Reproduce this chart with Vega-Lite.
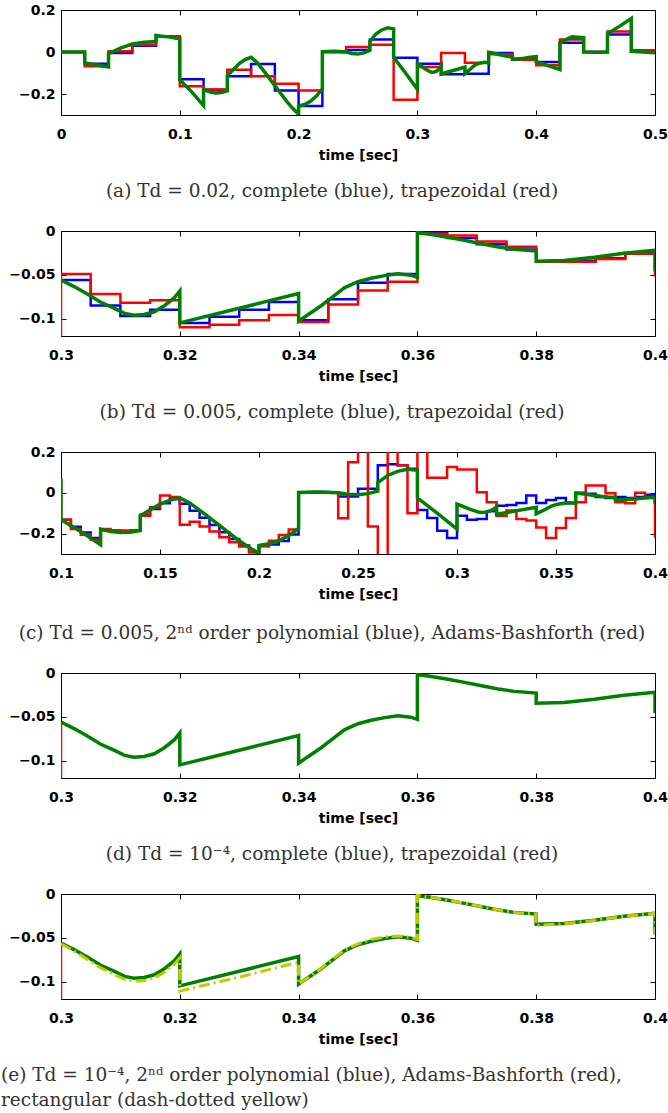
{
  "$schema": "https://vega.github.io/schema/vega-lite/v6.json",
  "padding": {"left": 0, "top": 2, "right": 0, "bottom": 0},
  "config": {
    "view": {"stroke": "#000", "strokeWidth": 1},
    "axis": {"domain": false, "grid": false, "tickColor": "#000", "tickWidth": 1, "tickSize": -5,
      "labelFont": "DejaVu Sans", "labelFontWeight": "bold", "labelFontSize": 14, "labelColor": "#000",
      "labelFlush": false, "labelOverlap": false, "labelBound": false,
      "titleFont": "DejaVu Sans", "titleFontWeight": "bold", "titleFontSize": 14, "titleColor": "#000"},
    "axisBottom": {"labelPadding": 17, "titlePadding": 7},
    "axisLeft": {"labelPadding": 11},
    "title": {"font": "DejaVu Serif", "fontSize": 18.5, "fontWeight": "normal", "color": "#333", "orient": "bottom", "offset": 20, "frame": "group"}
  },
  "spacing": 22,
  "datasets": {
    "aB": [{"t":0,"v":0},{"t":0.02,"v":-0.056},{"t":0.04,"v":-0.005},{"t":0.06,"v":0.03},{"t":0.08,"v":0.075},{"t":0.1,"v":-0.13},{"t":0.12,"v":-0.18},{"t":0.14,"v":-0.116},{"t":0.16,"v":-0.057},{"t":0.18,"v":-0.183},{"t":0.2,"v":-0.257},{"t":0.22,"v":0},{"t":0.24,"v":0.01},{"t":0.26,"v":0.059},{"t":0.28,"v":-0.027},{"t":0.3,"v":-0.056},{"t":0.32,"v":-0.106},{"t":0.34,"v":-0.103},{"t":0.36,"v":-0.005},{"t":0.38,"v":-0.032},{"t":0.4,"v":-0.048},{"t":0.42,"v":0.044},{"t":0.44,"v":0},{"t":0.46,"v":0.083},{"t":0.48,"v":0.005},{"t":0.5,"v":0.005}],
    "aR": [{"t":0,"v":0},{"t":0.02,"v":-0.068},{"t":0.04,"v":0.003},{"t":0.06,"v":0.035},{"t":0.08,"v":0.075},{"t":0.1,"v":-0.163},{"t":0.12,"v":-0.178},{"t":0.14,"v":-0.084},{"t":0.16,"v":-0.116},{"t":0.18,"v":-0.151},{"t":0.2,"v":-0.183},{"t":0.22,"v":0},{"t":0.24,"v":0.024},{"t":0.26,"v":0.035},{"t":0.28,"v":-0.227},{"t":0.3,"v":-0.071},{"t":0.32,"v":-0.005},{"t":0.34,"v":-0.051},{"t":0.36,"v":-0.011},{"t":0.38,"v":-0.037},{"t":0.4,"v":-0.063},{"t":0.42,"v":0.06},{"t":0.44,"v":0},{"t":0.46,"v":0.098},{"t":0.48,"v":0.008},{"t":0.5,"v":0.008}],
    "gA": [{"t":0,"v":0},{"t":0.02,"v":0},{"t":0.02,"v":-0.052},{"t":0.04,"v":-0.071},{"t":0.04,"v":-0.008},{"t":0.05,"v":0.018},{"t":0.06,"v":0.038},{"t":0.07,"v":0.046},{"t":0.08,"v":0.05},{"t":0.08,"v":0.079},{"t":0.09,"v":0.072},{"t":0.1,"v":0.063},{"t":0.1,"v":-0.132},{"t":0.11,"v":-0.19},{"t":0.12,"v":-0.255},{"t":0.12,"v":-0.178},{"t":0.125,"v":-0.19},{"t":0.13,"v":-0.195},{"t":0.135,"v":-0.193},{"t":0.14,"v":-0.185},{"t":0.14,"v":-0.112},{"t":0.145,"v":-0.084},{"t":0.15,"v":-0.055},{"t":0.155,"v":-0.036},{"t":0.16,"v":-0.025},{"t":0.165,"v":-0.05},{"t":0.17,"v":-0.085},{"t":0.175,"v":-0.122},{"t":0.18,"v":-0.16},{"t":0.185,"v":-0.198},{"t":0.19,"v":-0.235},{"t":0.195,"v":-0.268},{"t":0.2,"v":-0.296},{"t":0.2,"v":-0.258},{"t":0.205,"v":-0.25},{"t":0.21,"v":-0.235},{"t":0.215,"v":-0.21},{"t":0.22,"v":-0.175},{"t":0.22,"v":0.002},{"t":0.23,"v":0.004},{"t":0.24,"v":0},{"t":0.245,"v":-0.007},{"t":0.25,"v":-0.01},{"t":0.255,"v":-0.004},{"t":0.26,"v":0.008},{"t":0.26,"v":0.05},{"t":0.265,"v":0.085},{"t":0.27,"v":0.105},{"t":0.275,"v":0.115},{"t":0.28,"v":0.11},{"t":0.28,"v":-0.025},{"t":0.29,"v":-0.1},{"t":0.3,"v":-0.178},{"t":0.3,"v":-0.056},{"t":0.3022,"v":-0.0635},{"t":0.3045,"v":-0.0723},{"t":0.3067,"v":-0.0815},{"t":0.309,"v":-0.0885},{"t":0.3107,"v":-0.0942},{"t":0.3123,"v":-0.0962},{"t":0.314,"v":-0.0954},{"t":0.3157,"v":-0.0923},{"t":0.3174,"v":-0.0854},{"t":0.3191,"v":-0.0762},{"t":0.32,"v":-0.0685},{"t":0.32,"v":-0.105},{"t":0.34,"v":-0.0715},{"t":0.34,"v":-0.103},{"t":0.3415,"v":-0.096},{"t":0.3438,"v":-0.0854},{"t":0.346,"v":-0.0738},{"t":0.3477,"v":-0.065},{"t":0.35,"v":-0.058},{"t":0.3522,"v":-0.054},{"t":0.3545,"v":-0.051},{"t":0.3567,"v":-0.049},{"t":0.3589,"v":-0.0505},{"t":0.36,"v":-0.053},{"t":0.36,"v":-0.0019},{"t":0.3621,"v":-0.0038},{"t":0.3649,"v":-0.0069},{"t":0.3677,"v":-0.0104},{"t":0.3706,"v":-0.0142},{"t":0.3734,"v":-0.018},{"t":0.3763,"v":-0.021},{"t":0.38,"v":-0.023},{"t":0.38,"v":-0.0346},{"t":0.3847,"v":-0.0338},{"t":0.3898,"v":-0.03},{"t":0.3948,"v":-0.0254},{"t":0.4,"v":-0.0219},{"t":0.4,"v":-0.046},{"t":0.41,"v":-0.065},{"t":0.42,"v":-0.084},{"t":0.42,"v":0.045},{"t":0.43,"v":0.072},{"t":0.44,"v":0.068},{"t":0.44,"v":0},{"t":0.45,"v":-0.001},{"t":0.46,"v":0},{"t":0.46,"v":0.087},{"t":0.47,"v":0.122},{"t":0.48,"v":0.159},{"t":0.48,"v":0.003},{"t":0.49,"v":0},{"t":0.5,"v":-0.003}],
    "gB": [{"t":0.3,"v":-0.056},{"t":0.3022,"v":-0.0635},{"t":0.3045,"v":-0.0723},{"t":0.3067,"v":-0.0815},{"t":0.309,"v":-0.0885},{"t":0.3107,"v":-0.0942},{"t":0.3123,"v":-0.0962},{"t":0.314,"v":-0.0954},{"t":0.3157,"v":-0.0923},{"t":0.3174,"v":-0.0854},{"t":0.3191,"v":-0.0762},{"t":0.32,"v":-0.0685},{"t":0.32,"v":-0.105},{"t":0.34,"v":-0.0715},{"t":0.34,"v":-0.103},{"t":0.3415,"v":-0.096},{"t":0.3438,"v":-0.0854},{"t":0.346,"v":-0.0738},{"t":0.3477,"v":-0.065},{"t":0.35,"v":-0.058},{"t":0.3522,"v":-0.054},{"t":0.3545,"v":-0.051},{"t":0.3567,"v":-0.049},{"t":0.3589,"v":-0.0505},{"t":0.36,"v":-0.053},{"t":0.36,"v":-0.0019},{"t":0.3621,"v":-0.0038},{"t":0.3649,"v":-0.0069},{"t":0.3677,"v":-0.0104},{"t":0.3706,"v":-0.0142},{"t":0.3734,"v":-0.018},{"t":0.3763,"v":-0.021},{"t":0.38,"v":-0.023},{"t":0.38,"v":-0.0346},{"t":0.3847,"v":-0.0338},{"t":0.3898,"v":-0.03},{"t":0.3948,"v":-0.0254},{"t":0.4,"v":-0.0219},{"t":0.4,"v":-0.046}],
    "bB": [{"t":0.3,"v":-0.056},{"t":0.305,"v":-0.085},{"t":0.31,"v":-0.097},{"t":0.315,"v":-0.09},{"t":0.32,"v":-0.105},{"t":0.325,"v":-0.098},{"t":0.33,"v":-0.09},{"t":0.335,"v":-0.081},{"t":0.34,"v":-0.102},{"t":0.345,"v":-0.078},{"t":0.35,"v":-0.059},{"t":0.355,"v":-0.049},{"t":0.36,"v":-0.002},{"t":0.365,"v":-0.008},{"t":0.37,"v":-0.015},{"t":0.375,"v":-0.021},{"t":0.38,"v":-0.035},{"t":0.385,"v":-0.034},{"t":0.39,"v":-0.031},{"t":0.395,"v":-0.025},{"t":0.4,"v":-0.025}],
    "bR": [{"t":0.3,"v":-0.15},{"t":0.3,"v":-0.049},{"t":0.305,"v":-0.072},{"t":0.31,"v":-0.082},{"t":0.315,"v":-0.079},{"t":0.32,"v":-0.11},{"t":0.325,"v":-0.107},{"t":0.33,"v":-0.102},{"t":0.335,"v":-0.096},{"t":0.34,"v":-0.104},{"t":0.345,"v":-0.084},{"t":0.35,"v":-0.068},{"t":0.355,"v":-0.058},{"t":0.36,"v":-0.003},{"t":0.365,"v":-0.005},{"t":0.37,"v":-0.012},{"t":0.375,"v":-0.018},{"t":0.38,"v":-0.035},{"t":0.385,"v":-0.035},{"t":0.39,"v":-0.032},{"t":0.395,"v":-0.026},{"t":0.4,"v":-0.026},{"t":0.4,"v":-0.052}],
    "cB": [{"t":0.1,"v":-0.132},{"t":0.105,"v":-0.166},{"t":0.11,"v":-0.194},{"t":0.115,"v":-0.222},{"t":0.12,"v":-0.183},{"t":0.125,"v":-0.187},{"t":0.13,"v":-0.189},{"t":0.135,"v":-0.186},{"t":0.14,"v":-0.107},{"t":0.145,"v":-0.079},{"t":0.15,"v":-0.051},{"t":0.155,"v":-0.03},{"t":0.16,"v":-0.054},{"t":0.165,"v":-0.088},{"t":0.17,"v":-0.122},{"t":0.175,"v":-0.158},{"t":0.18,"v":-0.193},{"t":0.185,"v":-0.226},{"t":0.19,"v":-0.258},{"t":0.195,"v":-0.292},{"t":0.2,"v":-0.262},{"t":0.205,"v":-0.254},{"t":0.21,"v":-0.236},{"t":0.215,"v":-0.205},{"t":0.22,"v":0.003},{"t":0.225,"v":0.004},{"t":0.23,"v":0.004},{"t":0.235,"v":0.002},{"t":0.24,"v":-0.018},{"t":0.245,"v":-0.018},{"t":0.25,"v":0.02},{"t":0.255,"v":0.02},{"t":0.26,"v":0.135},{"t":0.265,"v":0.14},{"t":0.27,"v":0.135},{"t":0.275,"v":0.118},{"t":0.28,"v":-0.084},{"t":0.285,"v":-0.123},{"t":0.29,"v":-0.186},{"t":0.295,"v":-0.222},{"t":0.3,"v":-0.112},{"t":0.305,"v":-0.132},{"t":0.31,"v":-0.128},{"t":0.315,"v":-0.09},{"t":0.32,"v":-0.063},{"t":0.325,"v":-0.06},{"t":0.33,"v":-0.05},{"t":0.335,"v":-0.013},{"t":0.34,"v":-0.05},{"t":0.345,"v":-0.035},{"t":0.35,"v":-0.025},{"t":0.355,"v":-0.05},{"t":0.36,"v":0},{"t":0.365,"v":-0.005},{"t":0.37,"v":-0.02},{"t":0.375,"v":-0.025},{"t":0.38,"v":-0.02},{"t":0.385,"v":-0.025},{"t":0.39,"v":-0.02},{"t":0.395,"v":-0.01},{"t":0.4,"v":-0.01}],
    "cR": [{"t":0.1,"v":0.06},{"t":0.1,"v":-0.132},{"t":0.105,"v":-0.178},{"t":0.11,"v":-0.206},{"t":0.115,"v":-0.23},{"t":0.12,"v":-0.178},{"t":0.125,"v":-0.183},{"t":0.13,"v":-0.185},{"t":0.135,"v":-0.183},{"t":0.14,"v":-0.112},{"t":0.145,"v":-0.071},{"t":0.15,"v":-0.013},{"t":0.155,"v":-0.02},{"t":0.16,"v":-0.157},{"t":0.165,"v":-0.142},{"t":0.17,"v":-0.165},{"t":0.175,"v":-0.19},{"t":0.18,"v":-0.218},{"t":0.185,"v":-0.243},{"t":0.19,"v":-0.263},{"t":0.195,"v":-0.29},{"t":0.2,"v":-0.26},{"t":0.205,"v":-0.235},{"t":0.21,"v":-0.207},{"t":0.215,"v":-0.18},{"t":0.22,"v":0.002},{"t":0.225,"v":0.003},{"t":0.23,"v":0.003},{"t":0.235,"v":0},{"t":0.24,"v":-0.125},{"t":0.245,"v":0.15},{"t":0.25,"v":0.5},{"t":0.255,"v":-0.165},{"t":0.26,"v":-0.6},{"t":0.265,"v":0.5},{"t":0.27,"v":0.135},{"t":0.275,"v":-0.1},{"t":0.28,"v":0.5},{"t":0.285,"v":0.074},{"t":0.29,"v":0.074},{"t":0.295,"v":0.127},{"t":0.3,"v":0.114},{"t":0.305,"v":0.114},{"t":0.31,"v":0.003},{"t":0.315,"v":-0.046},{"t":0.32,"v":-0.112},{"t":0.325,"v":-0.087},{"t":0.33,"v":-0.128},{"t":0.335,"v":-0.136},{"t":0.34,"v":-0.17},{"t":0.345,"v":-0.222},{"t":0.35,"v":-0.173},{"t":0.355,"v":-0.123},{"t":0.36,"v":-0.046},{"t":0.365,"v":0.036},{"t":0.37,"v":0.036},{"t":0.375,"v":-0.002},{"t":0.38,"v":-0.046},{"t":0.385,"v":-0.051},{"t":0.39,"v":0},{"t":0.395,"v":-0.02},{"t":0.4,"v":-0.02},{"t":0.4,"v":-0.22}],
    "dR": [{"t":0.3,"v":-0.13},{"t":0.3,"v":-0.058}],
    "eY": [{"t":0.3,"v":-0.057},{"t":0.3022,"v":-0.065},{"t":0.3045,"v":-0.075},{"t":0.3067,"v":-0.0845},{"t":0.309,"v":-0.092},{"t":0.3107,"v":-0.0975},{"t":0.3123,"v":-0.0995},{"t":0.314,"v":-0.0992},{"t":0.3157,"v":-0.096},{"t":0.3174,"v":-0.0895},{"t":0.3191,"v":-0.08},{"t":0.32,"v":-0.073},{"t":0.32,"v":-0.111},{"t":0.33,"v":-0.095},{"t":0.34,"v":-0.078},{"t":0.34,"v":-0.103},{"t":0.3415,"v":-0.096},{"t":0.3438,"v":-0.085},{"t":0.346,"v":-0.073},{"t":0.3477,"v":-0.064},{"t":0.35,"v":-0.057},{"t":0.3522,"v":-0.052},{"t":0.3545,"v":-0.049},{"t":0.3567,"v":-0.048},{"t":0.3589,"v":-0.0495},{"t":0.36,"v":-0.052},{"t":0.36,"v":-0.001},{"t":0.3621,"v":-0.0035},{"t":0.3649,"v":-0.0068},{"t":0.3677,"v":-0.0103},{"t":0.3706,"v":-0.0142},{"t":0.3734,"v":-0.018},{"t":0.3763,"v":-0.021},{"t":0.38,"v":-0.023},{"t":0.38,"v":-0.036},{"t":0.3847,"v":-0.034},{"t":0.3898,"v":-0.0302},{"t":0.3948,"v":-0.0255},{"t":0.4,"v":-0.022},{"t":0.4,"v":-0.046}]
  },
  "vconcat": [
    {
      "width": 594, "height": 105,
      "title": {"text": "(a)  Td = 0.02, complete (blue), trapezoidal (red)", "anchor": "middle", "dx": -26},
      "layer": [
        {"data": {"name": "aB"}, "transform": [{"window": [{"op": "row_number", "as": "i"}]}],
         "mark": {"type": "line", "interpolate": "step-after", "color": "#0000ff", "strokeWidth": 2.5, "clip": true},
         "encoding": {
           "x": {"field": "t", "type": "quantitative", "scale": {"domain": [0, 0.5], "nice": false, "zero": false}, "axis": {"orient": "bottom", "values": [0, 0.1, 0.2, 0.3, 0.4, 0.5], "format": "~g", "title": "time [sec]"}},
           "y": {"field": "v", "type": "quantitative", "scale": {"domain": [-0.3, 0.2], "nice": false, "zero": false}, "axis": {"orient": "left", "values": [-0.2, 0, 0.2], "format": "~g", "title": null}},
           "order": {"field": "i", "type": "quantitative"}}},
        {"data": {"name": "aR"}, "transform": [{"window": [{"op": "row_number", "as": "i"}]}],
         "mark": {"type": "line", "interpolate": "step-after", "color": "#ff0000", "strokeWidth": 2.5, "clip": true},
         "encoding": {
           "x": {"field": "t", "type": "quantitative", "scale": {"domain": [0, 0.5], "nice": false, "zero": false}, "axis": null},
           "y": {"field": "v", "type": "quantitative", "scale": {"domain": [-0.3, 0.2], "nice": false, "zero": false}, "axis": null},
           "order": {"field": "i", "type": "quantitative"}}},
        {"data": {"name": "gA"}, "transform": [{"window": [{"op": "row_number", "as": "i"}]}],
         "mark": {"type": "line", "color": "#008000", "strokeWidth": 3.5, "clip": true},
         "encoding": {
           "x": {"field": "t", "type": "quantitative", "scale": {"domain": [0, 0.5], "nice": false, "zero": false}, "axis": {"orient": "top", "values": [0, 0.1, 0.2, 0.3, 0.4, 0.5], "labels": false, "title": null}},
           "y": {"field": "v", "type": "quantitative", "scale": {"domain": [-0.3, 0.2], "nice": false, "zero": false}, "axis": {"orient": "right", "values": [-0.2, 0, 0.2], "labels": false, "title": null}},
           "order": {"field": "i", "type": "quantitative"}}}
      ],
      "resolve": {"axis": {"x": "independent", "y": "independent"}}
    },
    {
      "width": 594, "height": 105,
      "title": {"text": "(b)  Td = 0.005, complete (blue), trapezoidal (red)", "anchor": "middle", "dx": -26},
      "layer": [
        {"data": {"name": "bB"}, "transform": [{"window": [{"op": "row_number", "as": "i"}]}],
         "mark": {"type": "line", "interpolate": "step-after", "color": "#0000ff", "strokeWidth": 2.5, "clip": true},
         "encoding": {
           "x": {"field": "t", "type": "quantitative", "scale": {"domain": [0.3, 0.4], "nice": false, "zero": false}, "axis": {"orient": "bottom", "values": [0.3, 0.32, 0.34, 0.36, 0.38, 0.4], "format": "~g", "title": "time [sec]"}},
           "y": {"field": "v", "type": "quantitative", "scale": {"domain": [-0.12, 0], "nice": false, "zero": false}, "axis": {"orient": "left", "values": [-0.1, -0.05, 0], "format": "~g", "title": null}},
           "order": {"field": "i", "type": "quantitative"}}},
        {"data": {"name": "bR"}, "transform": [{"window": [{"op": "row_number", "as": "i"}]}],
         "mark": {"type": "line", "interpolate": "step-after", "color": "#ff0000", "strokeWidth": 2.5, "clip": true},
         "encoding": {
           "x": {"field": "t", "type": "quantitative", "scale": {"domain": [0.3, 0.4], "nice": false, "zero": false}, "axis": null},
           "y": {"field": "v", "type": "quantitative", "scale": {"domain": [-0.12, 0], "nice": false, "zero": false}, "axis": null},
           "order": {"field": "i", "type": "quantitative"}}},
        {"data": {"name": "gB"}, "transform": [{"window": [{"op": "row_number", "as": "i"}]}],
         "mark": {"type": "line", "color": "#008000", "strokeWidth": 3.5, "clip": true},
         "encoding": {
           "x": {"field": "t", "type": "quantitative", "scale": {"domain": [0.3, 0.4], "nice": false, "zero": false}, "axis": {"orient": "top", "values": [0.3, 0.32, 0.34, 0.36, 0.38, 0.4], "labels": false, "title": null}},
           "y": {"field": "v", "type": "quantitative", "scale": {"domain": [-0.12, 0], "nice": false, "zero": false}, "axis": {"orient": "right", "values": [-0.1, -0.05, 0], "labels": false, "title": null}},
           "order": {"field": "i", "type": "quantitative"}}}
      ],
      "resolve": {"axis": {"x": "independent", "y": "independent"}}
    },
    {
      "width": 594, "height": 102,
      "title": {"text": "(c)  Td = 0.005, 2ⁿᵈ order polynomial (blue), Adams-Bashforth (red)", "anchor": "middle", "dx": -26, "offset": 23},
      "layer": [
        {"data": {"name": "cB"}, "transform": [{"window": [{"op": "row_number", "as": "i"}]}],
         "mark": {"type": "line", "interpolate": "step-after", "color": "#0000ff", "strokeWidth": 2.5, "clip": true},
         "encoding": {
           "x": {"field": "t", "type": "quantitative", "scale": {"domain": [0.1, 0.4], "nice": false, "zero": false}, "axis": {"orient": "bottom", "values": [0.1, 0.15, 0.2, 0.25, 0.3, 0.35, 0.4], "format": "~g", "title": "time [sec]"}},
           "y": {"field": "v", "type": "quantitative", "scale": {"domain": [-0.3, 0.2], "nice": false, "zero": false}, "axis": {"orient": "left", "values": [-0.2, 0, 0.2], "format": "~g", "title": null}},
           "order": {"field": "i", "type": "quantitative"}}},
        {"data": {"name": "cR"}, "transform": [{"window": [{"op": "row_number", "as": "i"}]}],
         "mark": {"type": "line", "interpolate": "step-after", "color": "#ff0000", "strokeWidth": 2.5, "clip": true},
         "encoding": {
           "x": {"field": "t", "type": "quantitative", "scale": {"domain": [0.1, 0.4], "nice": false, "zero": false}, "axis": null},
           "y": {"field": "v", "type": "quantitative", "scale": {"domain": [-0.3, 0.2], "nice": false, "zero": false}, "axis": null},
           "order": {"field": "i", "type": "quantitative"}}},
        {"data": {"name": "gA"}, "transform": [{"window": [{"op": "row_number", "as": "i"}]}],
         "mark": {"type": "line", "color": "#008000", "strokeWidth": 3.5, "clip": true},
         "encoding": {
           "x": {"field": "t", "type": "quantitative", "scale": {"domain": [0.1, 0.4], "nice": false, "zero": false}, "axis": {"orient": "top", "values": [0.1, 0.15, 0.2, 0.25, 0.3, 0.35, 0.4], "labels": false, "title": null}},
           "y": {"field": "v", "type": "quantitative", "scale": {"domain": [-0.3, 0.2], "nice": false, "zero": false}, "axis": {"orient": "right", "values": [-0.2, 0, 0.2], "labels": false, "title": null}},
           "order": {"field": "i", "type": "quantitative"}}}
      ],
      "resolve": {"axis": {"x": "independent", "y": "independent"}}
    },
    {
      "width": 594, "height": 105,
      "title": {"text": "(d)  Td = 10⁻⁴, complete (blue), trapezoidal (red)", "anchor": "middle", "dx": -26},
      "layer": [
        {"data": {"name": "dR"}, "transform": [{"window": [{"op": "row_number", "as": "i"}]}],
         "mark": {"type": "line", "color": "#ff0000", "strokeWidth": 2.5, "clip": true},
         "encoding": {
           "x": {"field": "t", "type": "quantitative", "scale": {"domain": [0.3, 0.4], "nice": false, "zero": false}, "axis": {"orient": "bottom", "values": [0.3, 0.32, 0.34, 0.36, 0.38, 0.4], "format": "~g", "title": "time [sec]"}},
           "y": {"field": "v", "type": "quantitative", "scale": {"domain": [-0.12, 0], "nice": false, "zero": false}, "axis": {"orient": "left", "values": [-0.1, -0.05, 0], "format": "~g", "title": null}},
           "order": {"field": "i", "type": "quantitative"}}},
        {"data": {"name": "gB"}, "transform": [{"window": [{"op": "row_number", "as": "i"}]}],
         "mark": {"type": "line", "color": "#008000", "strokeWidth": 3.5, "clip": true},
         "encoding": {
           "x": {"field": "t", "type": "quantitative", "scale": {"domain": [0.3, 0.4], "nice": false, "zero": false}, "axis": {"orient": "top", "values": [0.3, 0.32, 0.34, 0.36, 0.38, 0.4], "labels": false, "title": null}},
           "y": {"field": "v", "type": "quantitative", "scale": {"domain": [-0.12, 0], "nice": false, "zero": false}, "axis": {"orient": "right", "values": [-0.1, -0.05, 0], "labels": false, "title": null}},
           "order": {"field": "i", "type": "quantitative"}}}
      ],
      "resolve": {"axis": {"x": "independent", "y": "independent"}}
    },
    {
      "width": 594, "height": 105,
      "title": {"text": ["(e)  Td = 10⁻⁴, 2ⁿᵈ order polynomial (blue), Adams-Bashforth (red),", "rectangular (dash-dotted yellow)"], "anchor": "start", "dx": -60, "lineHeight": 25},
      "layer": [
        {"data": {"name": "dR"}, "transform": [{"window": [{"op": "row_number", "as": "i"}]}],
         "mark": {"type": "line", "color": "#ff0000", "strokeWidth": 2.5, "clip": true},
         "encoding": {
           "x": {"field": "t", "type": "quantitative", "scale": {"domain": [0.3, 0.4], "nice": false, "zero": false}, "axis": {"orient": "bottom", "values": [0.3, 0.32, 0.34, 0.36, 0.38, 0.4], "format": "~g", "title": "time [sec]"}},
           "y": {"field": "v", "type": "quantitative", "scale": {"domain": [-0.12, 0], "nice": false, "zero": false}, "axis": {"orient": "left", "values": [-0.1, -0.05, 0], "format": "~g", "title": null}},
           "order": {"field": "i", "type": "quantitative"}}},
        {"data": {"name": "gB"}, "transform": [{"window": [{"op": "row_number", "as": "i"}]}],
         "mark": {"type": "line", "color": "#008000", "strokeWidth": 3.5, "clip": true},
         "encoding": {
           "x": {"field": "t", "type": "quantitative", "scale": {"domain": [0.3, 0.4], "nice": false, "zero": false}, "axis": {"orient": "top", "values": [0.3, 0.32, 0.34, 0.36, 0.38, 0.4], "labels": false, "title": null}},
           "y": {"field": "v", "type": "quantitative", "scale": {"domain": [-0.12, 0], "nice": false, "zero": false}, "axis": {"orient": "right", "values": [-0.1, -0.05, 0], "labels": false, "title": null}},
           "order": {"field": "i", "type": "quantitative"}}},
        {"data": {"name": "eY"}, "transform": [{"window": [{"op": "row_number", "as": "i"}]}],
         "mark": {"type": "line", "color": "#c8c800", "strokeWidth": 3, "strokeDash": [11, 4, 2, 4], "clip": true},
         "encoding": {
           "x": {"field": "t", "type": "quantitative", "scale": {"domain": [0.3, 0.4], "nice": false, "zero": false}, "axis": null},
           "y": {"field": "v", "type": "quantitative", "scale": {"domain": [-0.12, 0], "nice": false, "zero": false}, "axis": null},
           "order": {"field": "i", "type": "quantitative"}}}
      ],
      "resolve": {"axis": {"x": "independent", "y": "independent"}}
    }
  ]
}
